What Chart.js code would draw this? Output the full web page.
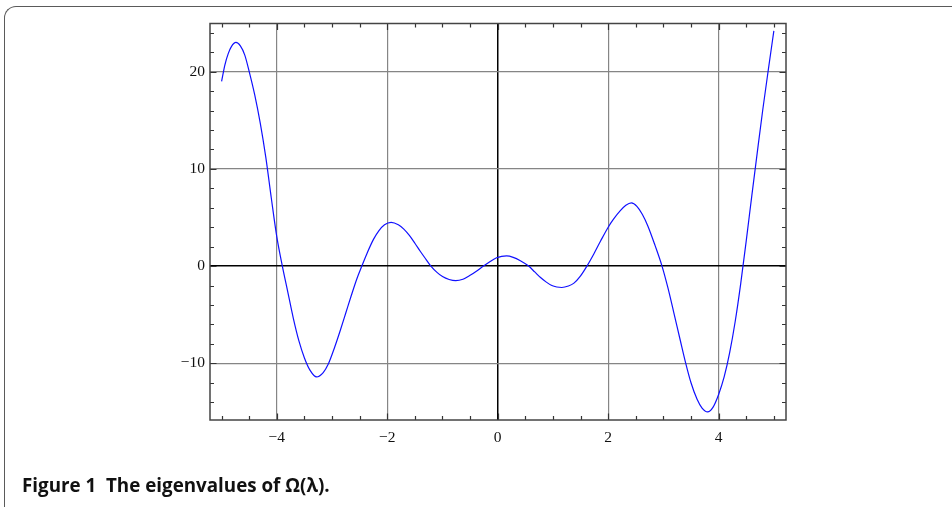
<!DOCTYPE html>
<html>
<head>
<meta charset="utf-8">
<script src="https://cdn.jsdelivr.net/npm/chart.js@4/dist/chart.umd.min.js"></script>
<style>
  html, body { margin: 0; padding: 0; background: #fff; }
  body { width: 952px; height: 507px; position: relative; overflow: hidden; }
  #frame {
    position: absolute; left: 4px; top: 6px; width: 1000px; height: 600px;
    border-top: 1.5px solid #5a5a5a; border-left: 1.5px solid #5a5a5a;
    border-top-left-radius: 12px;
  }
  #wrap { position: absolute; left: 0; top: 0; width: 952px; height: 507px; }
  #caption {
    position: absolute; left: 22px; top: 472px;
    font-family: "Open Sans", sans-serif; font-weight: 700; font-size: 18.8px;
    color: #111; white-space: nowrap;
  }
</style>
</head>
<body>
<div id="frame"></div>
<div id="wrap"><canvas id="plot" width="952" height="507"></canvas></div>
<div id="caption">Figure 1&nbsp;&nbsp;The eigenvalues of Ω(λ).</div>
<script>
(function(){
  // curve (lambda -> eigenvalue)
  const LAMBDA = [
    -5.00, -4.94, -4.88, -4.82, -4.74, -4.66, -4.58, -4.50, -4.40, -4.30, -4.20, -4.10,
    -4.00, -3.90, -3.80, -3.70, -3.60, -3.50, -3.40, -3.28,
    -3.16, -3.07, -2.95, -2.85, -2.75, -2.65, -2.55, -2.46, -2.36, -2.25, -2.15, -2.05, -1.93,
    -1.80, -1.70, -1.60, -1.50, -1.40, -1.30, -1.21, -1.10, -1.00, -0.88, -0.76,
    -0.63, -0.50, -0.38, -0.26, -0.13, -0.02, 0.07, 0.16, 0.28, 0.41, 0.56,
    0.67, 0.77, 0.88, 0.98, 1.07, 1.16, 1.28, 1.38, 1.50, 1.615, 1.74, 1.86,
    2.00, 2.10, 2.22, 2.32, 2.42, 2.52, 2.62, 2.72, 2.85, 2.975, 3.08, 3.185,
    3.30, 3.40, 3.50, 3.61, 3.70, 3.80, 3.90, 4.00, 4.10, 4.20, 4.30, 4.40,
    4.50, 4.60, 4.70, 4.80, 4.90, 5.00
  ];
  const OMEGA = [
    19.0, 20.7, 21.85, 22.6, 23.0, 22.65, 21.7, 20.0, 17.6, 14.7, 11.2, 7.0,
    3.0, 0.0, -2.7, -5.4, -7.7, -9.45, -10.7, -11.4,
    -10.95, -10.1, -8.3, -6.6, -4.8, -3.0, -1.3, 0.0, 1.4, 2.75, 3.65, 4.25, 4.5,
    4.25, 3.8, 3.15, 2.35, 1.5, 0.7, 0.0, -0.65, -1.08, -1.38, -1.5,
    -1.35, -0.95, -0.5, 0.0, 0.5, 0.85, 1.0, 1.05, 0.9, 0.55, 0.0,
    -0.6, -1.15, -1.65, -2.0, -2.15, -2.2, -2.05, -1.75, -1.0, 0.0, 1.25, 2.55,
    4.0, 4.85, 5.7, 6.25, 6.5, 6.15, 5.3, 4.1, 2.1, 0.0, -2.2, -4.7,
    -7.5, -9.9, -12.0, -13.7, -14.6, -15.0, -14.5, -13.2, -11.4, -8.9, -5.7, -1.8,
    2.6, 7.2, 11.7, 16.1, 20.2, 24.2
  ];

  const X_MAJOR = [-4, -2, 0, 2, 4];
  const X_MINOR = [-5, -4.5, -3.5, -3, -2.5, -1.5, -1, -0.5, 0.5, 1, 1.5, 2.5, 3, 3.5, 4.5, 5];
  const Y_MAJOR = [-10, 0, 10, 20];
  const Y_MINOR = [-14, -12, -8, -6, -4, -2, 2, 4, 6, 8, 12, 14, 16, 18, 22, 24];

  const X_RANGE = [-5.21, 5.22];
  const Y_RANGE = [-15.83, 24.95];

  const AXIS_FONT = { family: '"Liberation Serif", "Times New Roman", serif', size: 15.5 };

  function fmt(v){
    return String(v).replace('-', '\u2212');
  }

  // inward tick marks + frame round the plot box
  const frameTicks = {
    id: 'frameTicks',
    afterDatasetsDraw(chart){
      const {ctx, chartArea: a, scales} = chart;
      const xs = scales.x, ys = scales.y;
      ctx.save();
      ctx.strokeStyle = '#333';
      ctx.lineWidth = 1.2;
      ctx.beginPath();
      const xMark = (v, len) => {
        const px = Math.round(xs.getPixelForValue(v)) + 0.5;
        ctx.moveTo(px, a.bottom); ctx.lineTo(px, a.bottom - len);
        ctx.moveTo(px, a.top); ctx.lineTo(px, a.top + len);
      };
      const yMark = (v, len) => {
        const py = Math.round(ys.getPixelForValue(v)) + 0.5;
        ctx.moveTo(a.left, py); ctx.lineTo(a.left + len, py);
        ctx.moveTo(a.right, py); ctx.lineTo(a.right - len, py);
      };
      X_MAJOR.forEach(v => xMark(v, 6.5));
      X_MINOR.forEach(v => xMark(v, 4));
      Y_MAJOR.forEach(v => yMark(v, 6.5));
      Y_MINOR.forEach(v => yMark(v, 4));
      ctx.stroke();
      ctx.lineWidth = 1.5;
      ctx.strokeStyle = '#444';
      ctx.strokeRect(a.left, a.top, a.right - a.left, a.bottom - a.top);
      ctx.restore();
    }
  };

  const gridColor = (c) => (c.tick && c.tick.value === 0) ? '#000' : '#858585';
  const gridWidth = (c) => (c.tick && c.tick.value === 0) ? 1.5 : 1.2;

  new Chart(document.getElementById('plot'), {
    type: 'line',
    data: {
      labels: LAMBDA,
      datasets: [{
        data: LAMBDA.map((x, i) => ({x, y: OMEGA[i]})),
        borderColor: '#1010ff',
        borderWidth: 1.2,
        pointRadius: 0,
        fill: false,
        cubicInterpolationMode: 'monotone'
      }]
    },
    options: {
      responsive: false,
      animation: false,
      events: [],
      layout: { padding: { left: 0, top: 23.5, right: 166, bottom: 0 } },
      plugins: { legend: { display: false }, tooltip: { enabled: false }, title: { display: false } },
      scales: {
        x: {
          type: 'linear',
          min: X_RANGE[0], max: X_RANGE[1],
          afterBuildTicks: s => { s.ticks = X_MAJOR.map(v => ({value: v})); },
          afterFit: s => { s.height = 87; },
          ticks: { font: AXIS_FONT, color: '#111', padding: 9, maxRotation: 0, callback: fmt },
          grid: { color: gridColor, lineWidth: gridWidth, drawTicks: false },
          border: { display: false }
        },
        y: {
          type: 'linear',
          min: Y_RANGE[0], max: Y_RANGE[1],
          afterBuildTicks: s => { s.ticks = Y_MAJOR.map(v => ({value: v})); },
          afterFit: s => { s.width = 210; },
          ticks: { font: AXIS_FONT, color: '#111', padding: 5, callback: fmt },
          grid: { color: gridColor, lineWidth: gridWidth, drawTicks: false },
          border: { display: false }
        }
      }
    },
    plugins: [frameTicks]
  });
})();
</script>
</body>
</html>
